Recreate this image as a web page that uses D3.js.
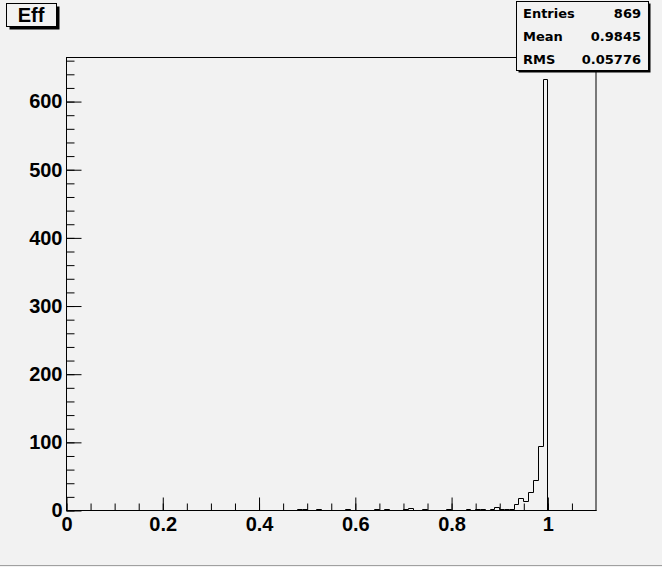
<!DOCTYPE html>
<html>
<head>
<meta charset="utf-8">
<script src="https://cdn.jsdelivr.net/npm/d3@7"></script>
<style>
    body { margin: 0; background: #f2f2f2; }
    svg { display: block; }
    .tick text { font-family: "Liberation Sans", Arial, sans-serif; font-weight: bold; font-size: 20px; fill: #000; }
</style>
</head>
<body>
<div id="chart"></div>
<script>
// histogram setup
var xMin = 0, xMax = 1.1, nBins = 110;
var histTitle = "Eff";

// non-empty bins: lower edge and content
var binLow = [0.48, 0.49, 0.52, 0.58, 0.64, 0.66, 0.70, 0.71, 0.74, 0.79, 0.83, 0.85, 0.86,
    0.88, 0.89, 0.90, 0.91, 0.92, 0.93, 0.94, 0.95, 0.96, 0.97, 0.98, 0.99];
var binCount = [1, 1, 1, 1, 1, 1, 1, 3, 1, 1, 1, 1, 1,
    1, 4, 1, 1, 2, 9, 17, 13, 27, 44, 94, 633];

// tick labels
var xTickValues = [0, 0.2, 0.4, 0.6, 0.8, 1];
var yTickValues = [0, 100, 200, 300, 400, 500, 600];

// stats box
var statNames = ["Entries", "Mean", "RMS"];
var statValues = ["869", "0.9845", "0.05776"];

var width = 662, height = 567;
var frame = { left: 66, right: 595.5, top: 57, bottom: 510 };

// fill all bins (empty ones are 0)
var counts = new Array(nBins).fill(0);
binLow.forEach(function (lo, i) {
    counts[Math.round((lo - xMin) / (xMax - xMin) * nBins)] = binCount[i];
});
var binW = (xMax - xMin) / nBins;

var x = d3.scaleLinear().domain([xMin, xMax]).range([frame.left, frame.right]);
var y = d3.scaleLinear().domain([0, d3.max(binCount) * 1.05]).range([frame.bottom, frame.top]);

var svg = d3.select('#chart').append('svg')
    .attr('width', width)
    .attr('height', height);

svg.append('rect').attr('width', width).attr('height', height).attr('fill', '#f2f2f2');
// canvas bottom edge
svg.append('line').attr('x1', 0).attr('x2', width).attr('y1', 565.5).attr('y2', 565.5)
    .attr('stroke', '#a0a0a0');

// frame
svg.append('rect')
    .attr('x', frame.left + 0.5).attr('y', frame.top + 0.5)
    .attr('width', x(xMax) - frame.left).attr('height', frame.bottom - frame.top)
    .attr('fill', 'none').attr('stroke', '#000');

// histogram outline
var pts = [[xMin, 0]];
counts.forEach(function (c, i) { pts.push([xMin + i * binW, c]); });
pts.push([xMax, counts[nBins - 1]]);
pts.push([xMax, 0]);

var line = d3.line()
    .x(function (d) { return Math.round(x(d[0])) + 0.5; })
    .y(function (d) { return Math.round(y(d[1])) + 0.5; })
    .curve(d3.curveStepAfter);

svg.append('path')
    .attr('d', line(pts))
    .attr('fill', 'none')
    .attr('stroke', '#000')
    .attr('stroke-width', 1);

// axes (ticks point inward like ROOT)
var yMinor = svg.append('g').attr('transform', 'translate(' + (frame.left + 0.5) + ',0.5)')
    .call(d3.axisLeft(y).tickValues(d3.range(0, 670, 20)).tickSize(-8).tickFormat(''));
var yMajor = svg.append('g').attr('transform', 'translate(' + (frame.left + 0.5) + ',0.5)')
    .call(d3.axisLeft(y).tickValues(yTickValues).tickSize(-15).tickPadding(4)
        .tickFormat(function (d) { return d; }));

var xMinor = svg.append('g').attr('transform', 'translate(0.5,' + (frame.bottom + 0.5) + ')')
    .call(d3.axisBottom(x).tickValues(d3.range(0, 1.09, 0.05)).tickSize(-7).tickFormat(''));
var xMajor = svg.append('g').attr('transform', 'translate(0.5,' + (frame.bottom + 0.5) + ')')
    .call(d3.axisBottom(x).tickValues(xTickValues).tickSize(-13).tickPadding(6)
        .tickFormat(function (d) { return d; }));

[yMinor, yMajor, xMinor, xMajor].forEach(function (g) {
    g.select('.domain').remove();
    g.selectAll('line').attr('stroke', '#000');
});

// title box
svg.append('rect').attr('x', 9.5).attr('y', 6.5).attr('width', 50).attr('height', 23).attr('fill', '#000');
svg.append('rect').attr('x', 6.5).attr('y', 3.5).attr('width', 50).attr('height', 23)
    .attr('fill', '#f2f2f2').attr('stroke', '#000');
svg.append('text')
    .attr('x', 31).attr('y', 21.5)
    .attr('text-anchor', 'middle')
    .style('font-family', '"Liberation Sans", Arial, sans-serif')
    .style('font-weight', 'bold')
    .style('font-size', '20px')
    .text(histTitle);

// stats box
svg.append('rect').attr('x', 518.5).attr('y', 3.5).attr('width', 132).attr('height', 69).attr('fill', '#000');
svg.append('rect').attr('x', 516.5).attr('y', 1.5).attr('width', 132).attr('height', 69)
    .attr('fill', '#f2f2f2').attr('stroke', '#000');

var stats = svg.selectAll('.stat')
    .data(statNames)
    .enter()
    .append('g')
    .attr('class', 'stat')
    .attr('transform', function (d, i) { return 'translate(0,' + (17.5 + i * 23) + ')'; })
    .style('font-family', '"DejaVu Sans", sans-serif')
    .style('font-weight', 'bold')
    .style('font-size', '13px');

stats.append('text').attr('x', 523).text(function (d) { return d; });
stats.append('text').attr('x', 641).attr('text-anchor', 'end')
    .text(function (d, i) { return statValues[i]; });
</script>
</body>
</html>
